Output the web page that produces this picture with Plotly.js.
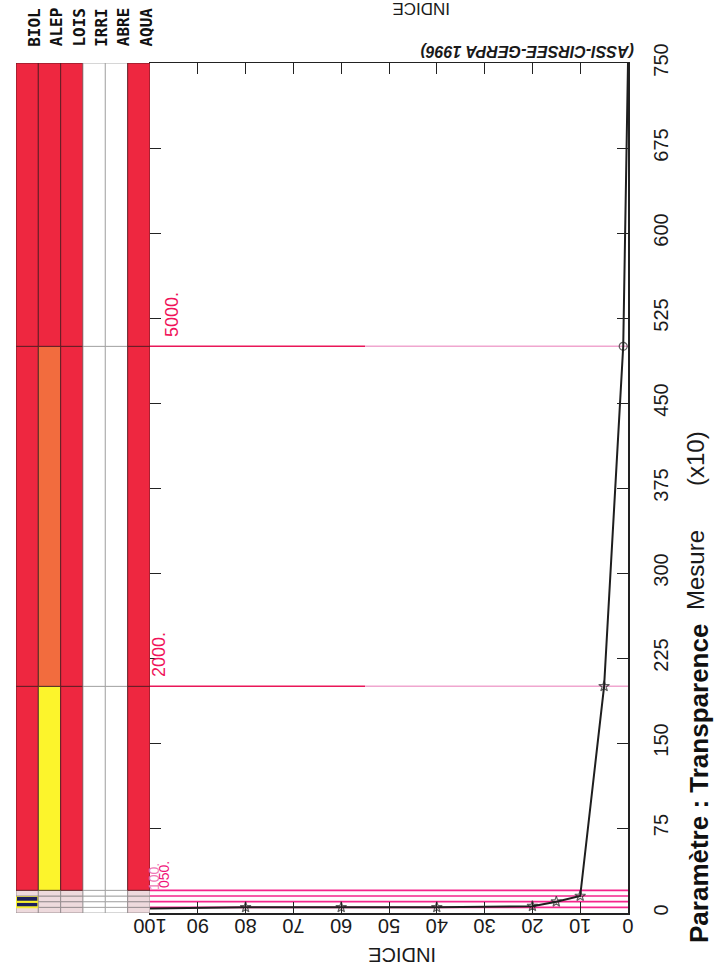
<!DOCTYPE html>
<html>
<head>
<meta charset="utf-8">
<script src="https://cdn.plot.ly/plotly-3.0.1.min.js"></script>
<style>html,body{margin:0;padding:0;background:#fff}</style>
</head>
<body>
<div id="chart" style="width:714px;height:973px"></div>
<script>
// Usages (colonnes de la grille de qualité)
const classes = ['BIOL', 'ALEP', 'LOIS', 'IRRI', 'ABRE', 'AQUA'];
// Bornes des tranches de mesure (x10)
const bounds = [0, 5, 10, 15, 20, 200, 500, 750];
// Niveau par usage et par tranche : 0 sans objet, 1 pâle, 2 jaune, 3 orange, 4 rouge, 5 bleu nuit
const levelsBIOL = [1, 5, 5, 1, 4, 4, 4];
const levelsALEP = [1, 1, 1, 1, 2, 3, 4];
const levelsLOIS = [1, 1, 1, 1, 4, 4, 4];
const levelsIRRI = [0, 0, 0, 0, 0, 0, 0];
const levelsABRE = [0, 0, 0, 0, 0, 0, 0];
const levelsAQUA = [1, 1, 1, 1, 4, 4, 4];

// Seuils tracés sur le graphique (x10)
const lowThresholds = [5, 10, 15, 20];
const mainThresholds = [200, 500];
const mainThresholdLabels = ['2000.', '5000.'];
const lowThresholdLabels = ['100.', '050.'];

// Courbe de correspondance mesure / indice
const indice = [100, 80, 60, 40, 20, 15, 10, 5, 1, 0];
const mesure = [4, 5, 5, 5, 6, 10, 15, 200, 500, 750];

// Graduations
const indiceTicks = [0, 10, 20, 30, 40, 50, 60, 70, 80, 90, 100];
const mesureTicks = [0, 75, 150, 225, 300, 375, 450, 525, 600, 675, 750];

const levelColor = ['#ffffff', '#eedadd', '#fcf42c', '#f26c3e', '#ee2740', '#1b1f5c'];
const levelLine = ['#9a9a9a', '#8c8486', '#4a3a20', '#4a2a20', '#5a1a20', '#f5ee30'];
const levelLineW = [0.8, 0.8, 0.9, 0.9, 0.9, 2];

const allLevels = [levelsBIOL, levelsALEP, levelsLOIS, levelsIRRI, levelsABRE, levelsAQUA];

// Segments de la grille : une barre par usage et par tranche
const bx = [], bbase = [], bh = [], bcol = [], blc = [], blw = [];
allLevels.forEach((lv, ci) => {
  lv.forEach((l, si) => {
    bx.push(ci);
    bbase.push(bounds[si]);
    bh.push(bounds[si + 1] - bounds[si]);
    bcol.push(levelColor[l]);
    blc.push(levelLine[l]);
    blw.push(levelLineW[l]);
  });
});

const W = 714, H = 973;
const M = {l: 16, r: 86, t: 63, b: 60};
const PW = W - M.l - M.r, PH = H - M.t - M.b;
const px = v => (v - M.l) / PW;
const py = v => (H - M.b - v) / PH;

const grid = {
  type: 'bar', x: bx, base: bbase, y: bh, width: 1,
  xaxis: 'x2', yaxis: 'y',
  marker: {color: bcol, line: {color: blc, width: blw}},
  hoverinfo: 'skip', showlegend: false
};

const curve = {
  type: 'scatter', mode: 'lines+markers',
  x: indice, y: mesure, xaxis: 'x', yaxis: 'y',
  line: {color: '#1e1e1e', width: 2},
  marker: {
    symbol: mesure.map(m => mainThresholds.indexOf(m) === 1 ? 'circle-open' : 'star-open'),
    size: indice.map((v, i) => (i === 0 || i === indice.length - 1) ? 0 : 8),
    color: '#1e1e1e', line: {width: 1.2, color: '#1e1e1e'}
  },
  showlegend: false
};

const shapes = [];
lowThresholds.forEach(t => {
  shapes.push({type: 'line', xref: 'x', yref: 'y', x0: 100, x1: 0, y0: t, y1: t,
    line: {color: '#f5258c', width: 1.6}, layer: 'below'});
});
mainThresholds.forEach(t => {
  shapes.push({type: 'line', xref: 'x', yref: 'y', x0: 100, x1: 55, y0: t, y1: t,
    line: {color: '#ea1658', width: 1.5}, layer: 'below'});
  shapes.push({type: 'line', xref: 'x', yref: 'y', x0: 55, x1: 0, y0: t, y1: t,
    line: {color: '#f0a6cf', width: 1.5}, layer: 'below'});
});

const SANS = 'Liberation Sans, Arial, sans-serif';
const tickFont = {family: SANS, size: 20, color: '#1a1a1a'};
const titleFont = {family: SANS, size: 24, color: '#1a1a1a'};
const annotations = [];

// Texte positionné en pixels de la page, centré sur (x, y)
function label(x, y, text, angle, font) {
  annotations.push({xref: 'paper', yref: 'paper', x: px(x), y: py(y), text: text,
    showarrow: false, textangle: angle, xanchor: 'center', yanchor: 'middle', font: font});
}

// Noms des usages au-dessus de la grille
classes.forEach((c, i) => {
  annotations.push({xref: 'x2', yref: 'paper', x: i + 0.3, y: py(27), text: '<b>' + c + '</b>',
    showarrow: false, textangle: -90, xanchor: 'center', yanchor: 'middle',
    font: {family: 'DejaVu Sans Mono, monospace', size: 16, color: '#111'}});
});

// Valeurs des seuils
label(172, 315, mainThresholdLabels[1], -90, {family: SANS, size: 18, color: '#f0145a'});
label(159, 655, mainThresholdLabels[0], -90, {family: SANS, size: 18, color: '#f0145a'});
label(154, 877, lowThresholdLabels[0], -90, {family: SANS, size: 14, color: '#f07ab8'});
label(164, 875, lowThresholdLabels[1], -90, {family: SANS, size: 14, color: '#f0147a'});

// Titres
label(528, 51, '<b><i>(ASSI-CIRSEE-GERPA 1996)</i></b>', 180, {family: SANS, size: 16, color: '#1a1a1a'});
label(402, 955, 'INDICE', 180, tickFont);
label(421, 9, 'INDICE', 180, {family: SANS, size: 17, color: '#1a1a1a'});
label(695, 570, 'Mesure', -90, titleFont);
label(695, 459, '(x10)', -90, titleFont);
label(699, 784, '<b>Paramètre : Transparence</b>', -90, {family: SANS, size: 26, color: '#111'});

const layout = {
  width: W, height: H,
  margin: M,
  paper_bgcolor: '#ffffff', plot_bgcolor: 'rgba(0,0,0,0)',
  barmode: 'overlay',
  showlegend: false,
  xaxis: {
    domain: [px(150), 1], range: [100, 0], anchor: 'y',
    tickmode: 'array', tickvals: indiceTicks, ticktext: indiceTicks.map(String),
    ticks: 'inside', ticklen: 11, tickcolor: '#222', tickwidth: 1,
    tickangle: 180, tickfont: tickFont,
    showline: true, linecolor: '#222', linewidth: 1.5, mirror: 'ticks',
    showgrid: false, zeroline: false
  },
  yaxis: {
    range: [0, 750], side: 'right', anchor: 'x',
    tickmode: 'array', tickvals: mesureTicks, ticktext: mesureTicks.map(String),
    ticks: 'inside', ticklen: 11, tickcolor: '#222', tickwidth: 1,
    tickangle: -90, tickfont: tickFont, ticklabelstandoff: 14,
    showline: true, linecolor: '#222', linewidth: 1.5, mirror: 'ticks',
    showgrid: false, zeroline: false
  },
  xaxis2: {
    domain: [0, px(150)], range: [-0.5, 5.5], anchor: 'y',
    visible: false, fixedrange: true
  },
  shapes: shapes,
  annotations: annotations
};

Plotly.newPlot('chart', [grid, curve], layout, {displayModeBar: false, staticPlot: true});
</script>
</body>
</html>
